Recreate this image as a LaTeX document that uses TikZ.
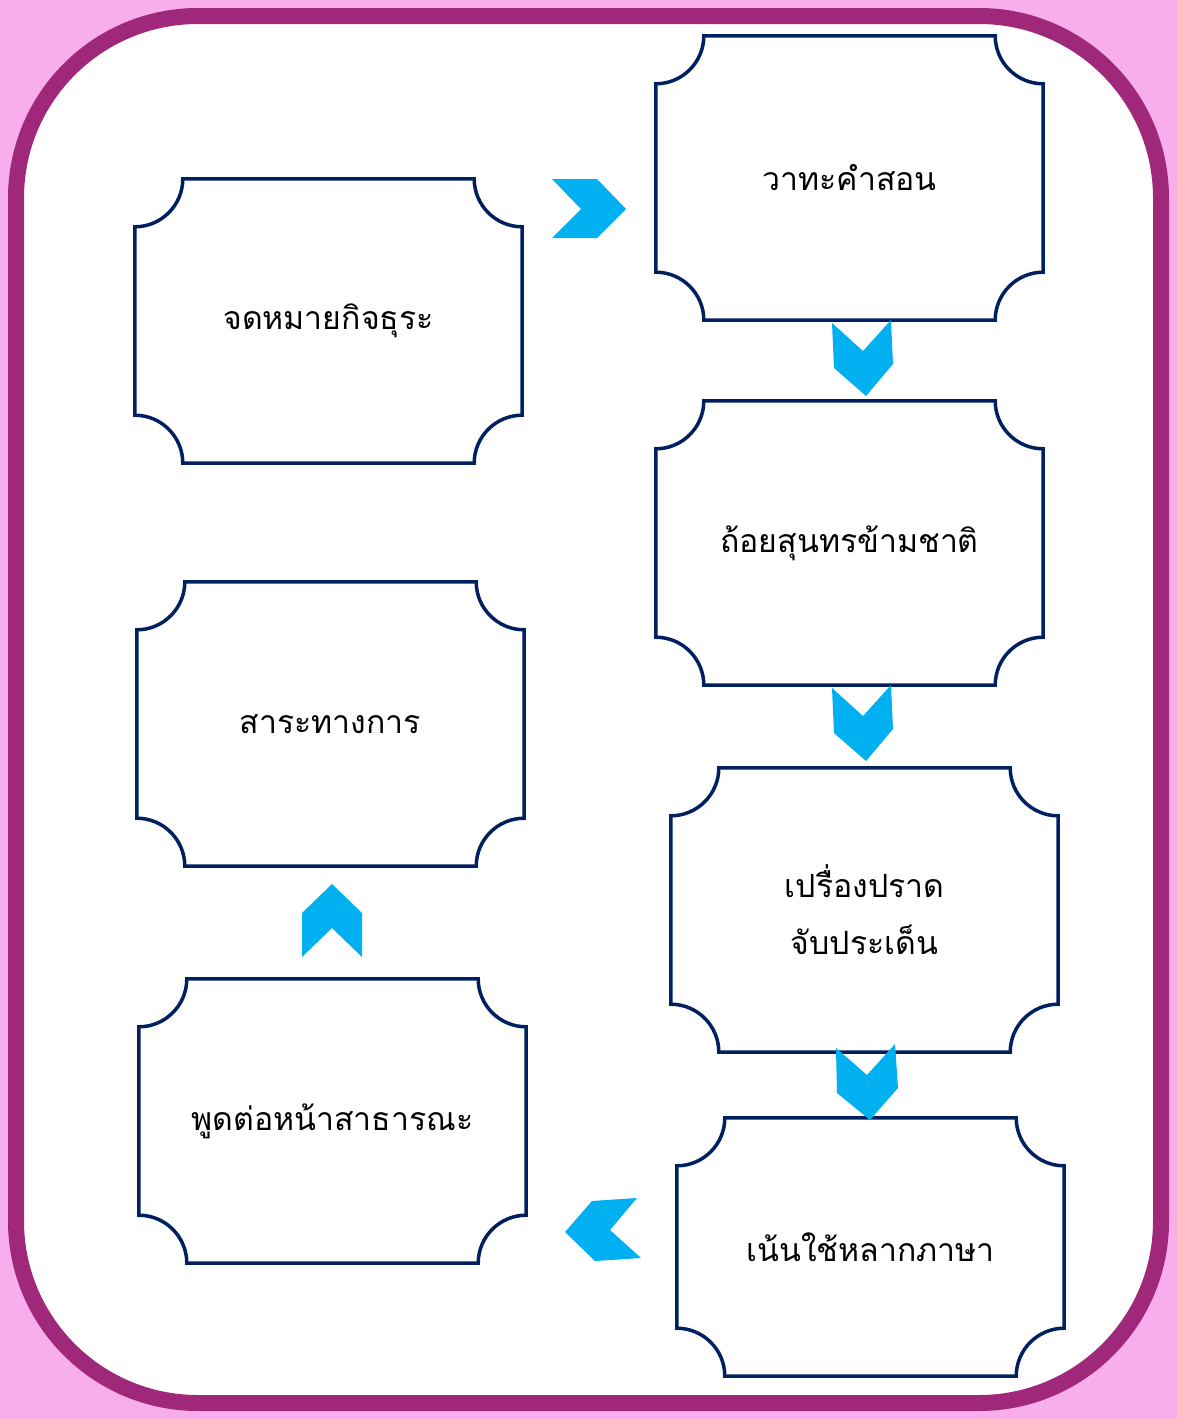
\documentclass[tikz,border=0pt]{standalone}
\usepackage{fontspec}
\usepackage{tikz}
\newfontfamily\thaifont[Script=Thai]{Loma}
\definecolor{ringpurple}{RGB}{160,40,122}
\definecolor{bgpink}{RGB}{248,174,236}
\definecolor{navy}{RGB}{0,32,96}
\definecolor{chevblue}{RGB}{0,176,240}
\tikzset{
  card/.style={minimum width=387pt, minimum height=284pt, inner sep=0pt, align=center,
    font=\thaifont\fontsize{32}{57}\selectfont},
  plaqueline/.style={draw=navy, line width=3.5pt},
  chevron/.style={fill=chevblue},
}

\begin{document}
\begin{tikzpicture}[x=1pt,y=1pt]
				\fill[bgpink] (0,0) rectangle (1177,-1419);
				\useasboundingbox (0,0) rectangle (1177,-1419);
				\draw[ringpurple, fill=white, line width=16pt, rounded corners=182pt] (16,-16) rectangle (1161,-1403);
				\node[card] (letter) at (328.5,-321) {จดหมายกิจธุระ};
				\node[card] (maxim) at (849.5,-178) {วาทะคำสอน};
				\node[card] (speech) at (849.5,-543) {ถ้อยสุนทรข้ามชาติ};
				\node[card] (sharp) at (864.5,-910) {เปรื่องปราด\\จับประเด็น};
				\node[card, minimum height=258pt] (multi) at (870.5,-1247) {เน้นใช้หลากภาษา};
				\node[card] (public) at (332.5,-1121) {พูดต่อหน้าสาธารณะ};
				\node[card] (formal) at (330.5,-724) {สาระทางการ};
				% plaque outlines
				\foreach \n in {letter,maxim,speech,sharp,multi,public,formal}
					\draw[plaqueline] ([xshift=48pt]\n.north west) -- ([xshift=-48pt]\n.north east)
						arc[start angle=180, end angle=270, radius=48pt] -- ([yshift=48pt]\n.south east)
						arc[start angle=90, end angle=180, radius=48pt] -- ([xshift=48pt]\n.south west)
						arc[start angle=0, end angle=90, radius=48pt] -- ([yshift=-48pt]\n.north west)
						arc[start angle=270, end angle=360, radius=48pt] -- cycle;
				% chevrons
				\fill[chevron] (552,-179) -- (597,-179) -- (626,-209) -- (597,-238) -- (552,-238) -- (581,-209) -- cycle;
				\fill[chevron] (832,-323) -- (863,-351) -- (891,-320) -- (893,-364) -- (866,-396) -- (834,-368) -- cycle;
				\fill[chevron] (832,-688) -- (863,-716) -- (891,-685) -- (893,-729) -- (866,-761) -- (834,-733) -- cycle;
				\fill[chevron] (836,-1048) -- (867,-1075) -- (895,-1044) -- (898,-1088) -- (870,-1120) -- (837,-1093) -- cycle;
				\fill[chevron] (592,-1201) -- (637,-1198) -- (610,-1230) -- (641,-1258) -- (595,-1261) -- (565,-1232) -- cycle;
				\fill[chevron] (332,-884) -- (362,-913) -- (362,-957) -- (332,-928) -- (302,-957) -- (302,-913) -- cycle;
			\end{tikzpicture}
\end{document}
